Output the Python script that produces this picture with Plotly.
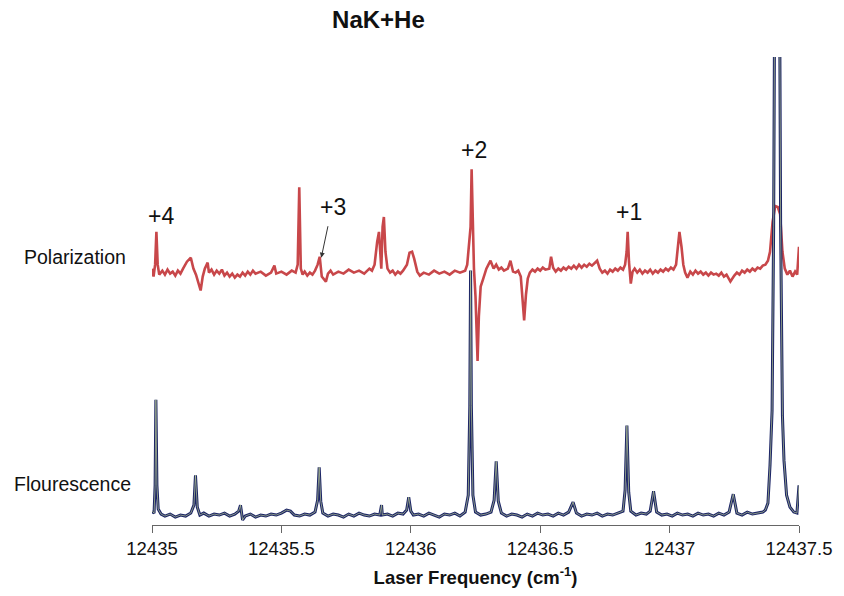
import plotly.graph_objects as go

# ---------------- data ----------------
tick_vals = [12435, 12435.5, 12436, 12436.5, 12437, 12437.5]
tick_text = ["12435", "12435.5", "12436", "12436.5", "12437", "12437.5"]

# Fluorescence trace (arbitrary units)
fluor_x = [
    12435.000, 12435.008, 12435.012, 12435.015, 12435.019, 12435.024, 12435.035, 12435.05, 12435.07, 12435.09,
    12435.11, 12435.13, 12435.15, 12435.162, 12435.168, 12435.175, 12435.185, 12435.20, 12435.22, 12435.24,
    12435.26, 12435.28, 12435.30, 12435.32, 12435.335, 12435.342, 12435.35, 12435.36, 12435.38, 12435.40,
    12435.42, 12435.44, 12435.46, 12435.48, 12435.50, 12435.52, 12435.535, 12435.55, 12435.57, 12435.59,
    12435.61, 12435.63, 12435.640, 12435.646, 12435.652, 12435.66, 12435.68, 12435.70, 12435.72, 12435.74,
    12435.76, 12435.78, 12435.80, 12435.82, 12435.84, 12435.86, 12435.88, 12435.887, 12435.890, 12435.91,
    12435.93, 12435.95, 12435.97, 12435.984, 12435.992, 12436.000, 12436.01, 12436.03, 12436.05, 12436.07,
    12436.09, 12436.11, 12436.13, 12436.15, 12436.17, 12436.19, 12436.21, 12436.222, 12436.228, 12436.231,
    12436.234, 12436.240, 12436.25, 12436.27, 12436.29, 12436.31, 12436.322, 12436.330, 12436.338, 12436.35,
    12436.37, 12436.39, 12436.41, 12436.43, 12436.45, 12436.47, 12436.49, 12436.51, 12436.53, 12436.55,
    12436.57, 12436.59, 12436.61, 12436.627, 12436.64, 12436.66, 12436.68, 12436.70, 12436.72, 12436.74,
    12436.76, 12436.78, 12436.80, 12436.82, 12436.828, 12436.835, 12436.842, 12436.85, 12436.87, 12436.89,
    12436.91, 12436.925, 12436.938, 12436.95, 12436.97, 12436.99, 12437.01, 12437.03, 12437.05, 12437.07,
    12437.09, 12437.11, 12437.13, 12437.15, 12437.17, 12437.19, 12437.21, 12437.23, 12437.246, 12437.26,
    12437.28, 12437.30, 12437.32, 12437.34, 12437.36, 12437.37, 12437.38, 12437.388, 12437.396, 12437.402,
    12437.407, 12437.424, 12437.429, 12437.436, 12437.442, 12437.452, 12437.465, 12437.48, 12437.492, 12437.50,
]
fluor_y = [
    14, 12, 40, 126, 40, 16, 11, 9, 11, 8,
    10, 9, 12, 20, 50, 18, 10, 12, 9, 11,
    10, 12, 9, 11, 14, 20, 5, 9, 11, 8,
    10, 9, 11, 10, 12, 15, 14, 10, 9, 11,
    10, 13, 25, 58, 24, 12, 9, 11, 10, 8,
    11, 9, 12, 10, 9, 11, 10, 20, 10, 11,
    9, 12, 11, 15, 28, 14, 10, 11, 9, 12,
    10, 8, 11, 10, 12, 9, 13, 30, 120, 256,
    120, 30, 13, 10, 11, 13, 25, 64, 24, 12,
    9, 11, 10, 8, 11, 9, 12, 10, 11, 9,
    12, 10, 13, 23, 12, 9, 11, 10, 12, 9,
    11, 10, 12, 14, 35, 100, 33, 14, 10, 12,
    11, 14, 34, 13, 10, 11, 9, 12, 10, 11,
    9, 12, 10, 11, 9, 12, 10, 13, 31, 12,
    10, 13, 11, 12, 13, 15, 22, 60, 115, 300,
    600, 600, 300, 110, 65, 30, 18, 13, 12, 40,
]

# Polarization trace (arbitrary units, offset above fluorescence)
pol_x = [
    12435.000, 12435.006, 12435.012, 12435.017, 12435.022, 12435.028, 12435.04, 12435.05, 12435.06, 12435.07,
    12435.08, 12435.09, 12435.10, 12435.11, 12435.12, 12435.135, 12435.150, 12435.16, 12435.17, 12435.18,
    12435.188, 12435.196, 12435.204, 12435.215, 12435.22, 12435.23, 12435.24, 12435.25, 12435.26, 12435.27,
    12435.28, 12435.29, 12435.30, 12435.31, 12435.32, 12435.33, 12435.34, 12435.35, 12435.36, 12435.37,
    12435.38, 12435.39, 12435.40, 12435.42, 12435.44, 12435.46, 12435.473, 12435.48, 12435.50, 12435.52,
    12435.54, 12435.555, 12435.563, 12435.569, 12435.575, 12435.582, 12435.59, 12435.60, 12435.61, 12435.62,
    12435.63, 12435.640, 12435.648, 12435.656, 12435.672, 12435.68, 12435.69, 12435.70, 12435.72, 12435.74,
    12435.76, 12435.78, 12435.80, 12435.82, 12435.84, 12435.850, 12435.860, 12435.870, 12435.877, 12435.886,
    12435.891, 12435.896, 12435.902, 12435.910, 12435.92, 12435.93, 12435.94, 12435.95, 12435.96, 12435.97,
    12435.985, 12435.995, 12436.005, 12436.013, 12436.025, 12436.035, 12436.05, 12436.07, 12436.09, 12436.11,
    12436.13, 12436.15, 12436.17, 12436.19, 12436.21, 12436.218, 12436.225, 12436.231, 12436.235, 12436.239,
    12436.244, 12436.250, 12436.254, 12436.258, 12436.263, 12436.270, 12436.28, 12436.292, 12436.30, 12436.308,
    12436.32, 12436.33, 12436.34, 12436.35, 12436.36, 12436.375, 12436.385, 12436.395, 12436.405, 12436.415,
    12436.425, 12436.432, 12436.438, 12436.445, 12436.452, 12436.46, 12436.47, 12436.48, 12436.49, 12436.50,
    12436.51, 12436.52, 12436.535, 12436.542, 12436.55, 12436.56, 12436.57, 12436.58, 12436.59, 12436.60,
    12436.61, 12436.62, 12436.63, 12436.64, 12436.65, 12436.66, 12436.67, 12436.68, 12436.69, 12436.70,
    12436.71, 12436.72, 12436.73, 12436.74, 12436.75, 12436.76, 12436.77, 12436.78, 12436.79, 12436.80,
    12436.81, 12436.82, 12436.828, 12436.834, 12436.838, 12436.843, 12436.850, 12436.857, 12436.865, 12436.875,
    12436.885, 12436.895, 12436.905, 12436.915, 12436.925, 12436.935, 12436.945, 12436.955, 12436.965, 12436.975,
    12436.985, 12436.995, 12437.005, 12437.015, 12437.025, 12437.031, 12437.038, 12437.046, 12437.053, 12437.06,
    12437.069, 12437.08, 12437.09, 12437.10, 12437.11, 12437.12, 12437.13, 12437.14, 12437.15, 12437.16,
    12437.17, 12437.18, 12437.19, 12437.20, 12437.21, 12437.22, 12437.235, 12437.25, 12437.26, 12437.27,
    12437.28, 12437.29, 12437.30, 12437.31, 12437.32, 12437.33, 12437.34, 12437.35, 12437.36, 12437.37,
    12437.38, 12437.388, 12437.398, 12437.408, 12437.418, 12437.427, 12437.436, 12437.445, 12437.455, 12437.465,
    12437.475, 12437.485, 12437.493, 12437.50,
]
pol_y = [
    258, 250, 262, 295, 262, 252, 256, 252, 257, 253,
    255, 251, 256, 253, 258, 265, 269, 258, 252, 244,
    236, 250, 258, 264, 254, 257, 252, 256, 253, 257,
    251, 254, 250, 253, 249, 252, 250, 254, 251, 255,
    252, 256, 253, 255, 251, 254, 261, 253, 255, 252,
    256, 254, 262, 340, 258, 252, 255, 251, 254, 252,
    256, 262, 270, 250, 245, 253, 256, 252, 255, 253,
    257, 254, 256, 253, 258, 256, 262, 285, 295, 258,
    300, 310, 275, 258, 254, 256, 252, 255, 253, 256,
    262, 274, 275, 268, 255, 251, 254, 252, 256, 253,
    255, 252, 256, 254, 256, 262, 280, 300, 358, 300,
    258, 230, 185, 165, 210, 240, 248, 258, 262, 266,
    258, 262, 257, 259, 256, 258, 266, 255, 254, 256,
    250, 230, 206, 232, 248, 254, 257, 255, 258, 256,
    259, 257, 258, 270, 259, 255, 258, 256, 259, 257,
    260, 258, 261, 258, 262, 259, 262, 260, 263, 261,
    264, 266, 258, 254, 256, 253, 257, 255, 258, 256,
    259, 257, 262, 275, 295, 265, 243, 255, 258, 254,
    257, 253, 256, 254, 257, 253, 256, 254, 257, 255,
    258, 256, 259, 257, 262, 275, 295, 280, 262, 254,
    249, 255, 252, 256, 253, 255, 252, 254, 251, 254,
    252, 253, 251, 254, 250, 252, 245, 251, 254, 252,
    256, 254, 257, 255, 258, 256, 259, 258, 261, 262,
    266, 275, 305, 321, 320, 313, 275, 258, 252, 256,
    250, 255, 252, 280,
]

# ---------------- figure ----------------
FONT = "Liberation Sans, Arial, sans-serif"

fig = go.Figure()
fig.add_trace(go.Scatter(x=pol_x, y=pol_y, mode="lines",
                         line=dict(color="#c8474a", width=2.6), name="Polarization"))
fig.add_trace(go.Scatter(x=fluor_x, y=fluor_y, mode="lines",
                         line=dict(color="#1b2466", width=3.0), name="Flourescence"))
fig.add_trace(go.Scatter(x=fluor_x, y=fluor_y, mode="lines",
                         line=dict(color="rgba(190,206,150,0.85)", width=0.8), name="Flourescence fit"))

ann = []
def txt(x, y, s, size=23, xref="x", xanchor="center"):
    ann.append(dict(x=x, y=y, xref=xref, yref="y", text=s, showarrow=False,
                    xanchor=xanchor, yanchor="middle",
                    font=dict(family=FONT, size=size, color="#111")))

txt(12435.035, 311, "+4")
txt(12435.700, 320, "+3")
txt(12436.246, 377, "+2")
txt(12436.842, 315, "+1")
txt(12437.408, 511, "Direct Line", size=20)
txt(12437.377, 485, "\u0394<i>J</i>=0", size=20)
txt(-0.2010, 270, "Polarization", size=19.5, xref="paper", xanchor="left")
txt(-0.2170, 41, "Flourescence", size=19.5, xref="paper", xanchor="left")
ann.append(dict(x=12435.654, y=269, xref="x", yref="y", ax=7, ay=-33, text="",
                showarrow=True, arrowhead=2, arrowsize=1, arrowwidth=1, arrowcolor="#333"))

fig.update_layout(
    width=844, height=596,
    margin=dict(l=152, r=41, t=57, b=68),
    paper_bgcolor="white", plot_bgcolor="white",
    showlegend=False,
    font=dict(family=FONT, color="#111"),
    title=dict(text="<b>NaK+He</b>", x=0.35, xref="paper", xanchor="center",
               y=1 - 20 / 596, yanchor="middle",
               font=dict(family=FONT, size=24, color="#111")),
    annotations=ann,
    xaxis=dict(range=[12435, 12437.5], tickvals=tick_vals, ticktext=tick_text,
               showgrid=False, zeroline=False, showline=True, linecolor="#666", linewidth=1.2,
               ticks="outside", ticklen=7, tickcolor="#666", tickwidth=1.2,
               tickfont=dict(family=FONT, size=18.5, color="#111"),
               title=dict(text="<b>Laser Frequency (cm<sup>-1</sup>)</b>", standoff=12,
                          font=dict(family=FONT, size=18.5, color="#111"))),
    yaxis=dict(range=[0, 471], visible=False, showgrid=False, zeroline=False),
)

fig.write_html("out.html")
